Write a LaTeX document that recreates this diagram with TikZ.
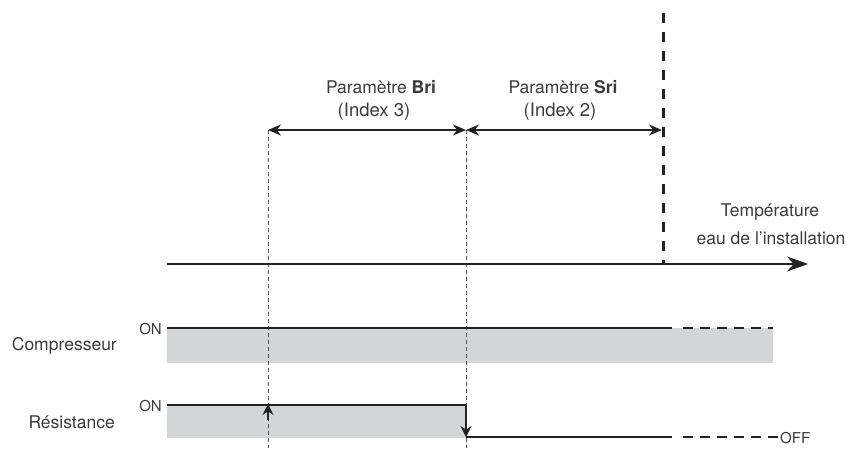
\documentclass[tikz,border=0pt]{standalone}
\usepackage{fontspec}
\setmainfont{TeX Gyre Heros}
\usetikzlibrary{arrows.meta}
\definecolor{txt}{HTML}{3A3A3A}
\definecolor{ln}{HTML}{222222}
\definecolor{band}{HTML}{D4D5D7}
\definecolor{thin}{HTML}{555555}
\tikzset{
  lbl/.style={inner sep=0pt, text=txt, font=\fontsize{17.5}{20}\selectfont},
  idx/.style={inner sep=0pt, text=txt, font=\fontsize{18.5}{21}\selectfont},
  onlbl/.style={inner sep=0pt, text=txt, font=\fontsize{15}{17}\selectfont},
  sig/.style={draw=ln, line width=2.2pt},
  sigdash/.style={draw=ln, line width=2.2pt, dash pattern=on 10pt off 7pt},
  guide/.style={draw=thin, line width=0.8pt, dash pattern=on 4pt off 3pt},
  dbl/.style={draw=ln, line width=2pt, {Stealth[length=13pt,width=11pt]}-{Stealth[length=13pt,width=11pt]}},
  axis/.style={draw=ln, line width=2.8pt, -{Stealth[length=21pt,width=15pt]}},
  thresh/.style={draw=ln, line width=3pt, dash pattern=on 10pt off 9pt}
}
\begin{document}
\begin{tikzpicture}[x=1pt,y=-1pt]
\useasboundingbox (0,0) rectangle (851,453);
% coordinates
\coordinate (tTop) at (663,13);
\coordinate (tBot) at (663,264);
\coordinate (axS) at (167,264);
\coordinate (axE) at (808,264);
\coordinate (aL) at (268,130);
\coordinate (aM) at (466,130);
\coordinate (aR) at (662,130);
\coordinate (gLb) at (268,448);
\coordinate (gMb) at (466,448);
% bands
\fill[band] (167,328) rectangle (773,363);
\fill[band] (167,405) rectangle (466,438);
% guides
\draw[guide] (aL) -- (gLb);
\draw[guide] (aM) -- (gMb);
% threshold
\draw[thresh] (tTop) -- (tBot);
% axis
\draw[axis] (axS) -- (axE);
% double arrows
\draw[dbl] (aL) -- (aM);
\draw[dbl] (aM) -- (aR);
% compressor
\coordinate (cS) at (167,328);
\coordinate (cM) at (672,328);
\coordinate (cE) at (773,328);
\draw[sig] (cS) -- (cM);
\draw[sigdash] ([xshift=11pt]cM) -- (cE);
% resistance
\coordinate (rS) at (167,405);
\coordinate (rD) at (466,405);
\coordinate (rL) at (466,437);
\coordinate (rM) at (672,437);
\coordinate (rE) at (778,437);
\draw[sig] (rS) -- (rD);
\draw[ln, line width=1.6pt, -{Stealth[length=11pt,width=11pt]}] (rD) -- (rL);
\draw[sig] (rL) -- (rM);
\draw[sigdash] ([xshift=11pt]rM) -- (rE);
\coordinate (uB) at (268,420);
\coordinate (uT) at (268,404);
\draw[ln, line width=1.2pt, -{Stealth[length=11pt,width=11pt]}] (uB) -- (uT);
% labels
\node[lbl] (bri) at (381,87) {Paramètre \textbf{Bri}};
\node[idx] (bri2) at (374,112) {(Index 3)};
\node[lbl] (sri) at (563,87) {Paramètre \textbf{Sri}};
\node[idx] (sri2) at (560,112) {(Index 2)};
\node[lbl] (temp) at (770,212) {Température};
\node[lbl] (eau) at (771,238) {eau de l'installation};
\node[lbl, anchor=east] (comp) at (117,346) {Compresseur};
\node[lbl, anchor=east] (res) at (115,422) {Résistance};
\node[onlbl, anchor=east] (on1) at (162,329) {ON};
\node[onlbl, anchor=east] (on2) at (162,406) {ON};
\node[onlbl, anchor=west] (off) at (780,438) {OFF};
\end{tikzpicture}
\end{document}
